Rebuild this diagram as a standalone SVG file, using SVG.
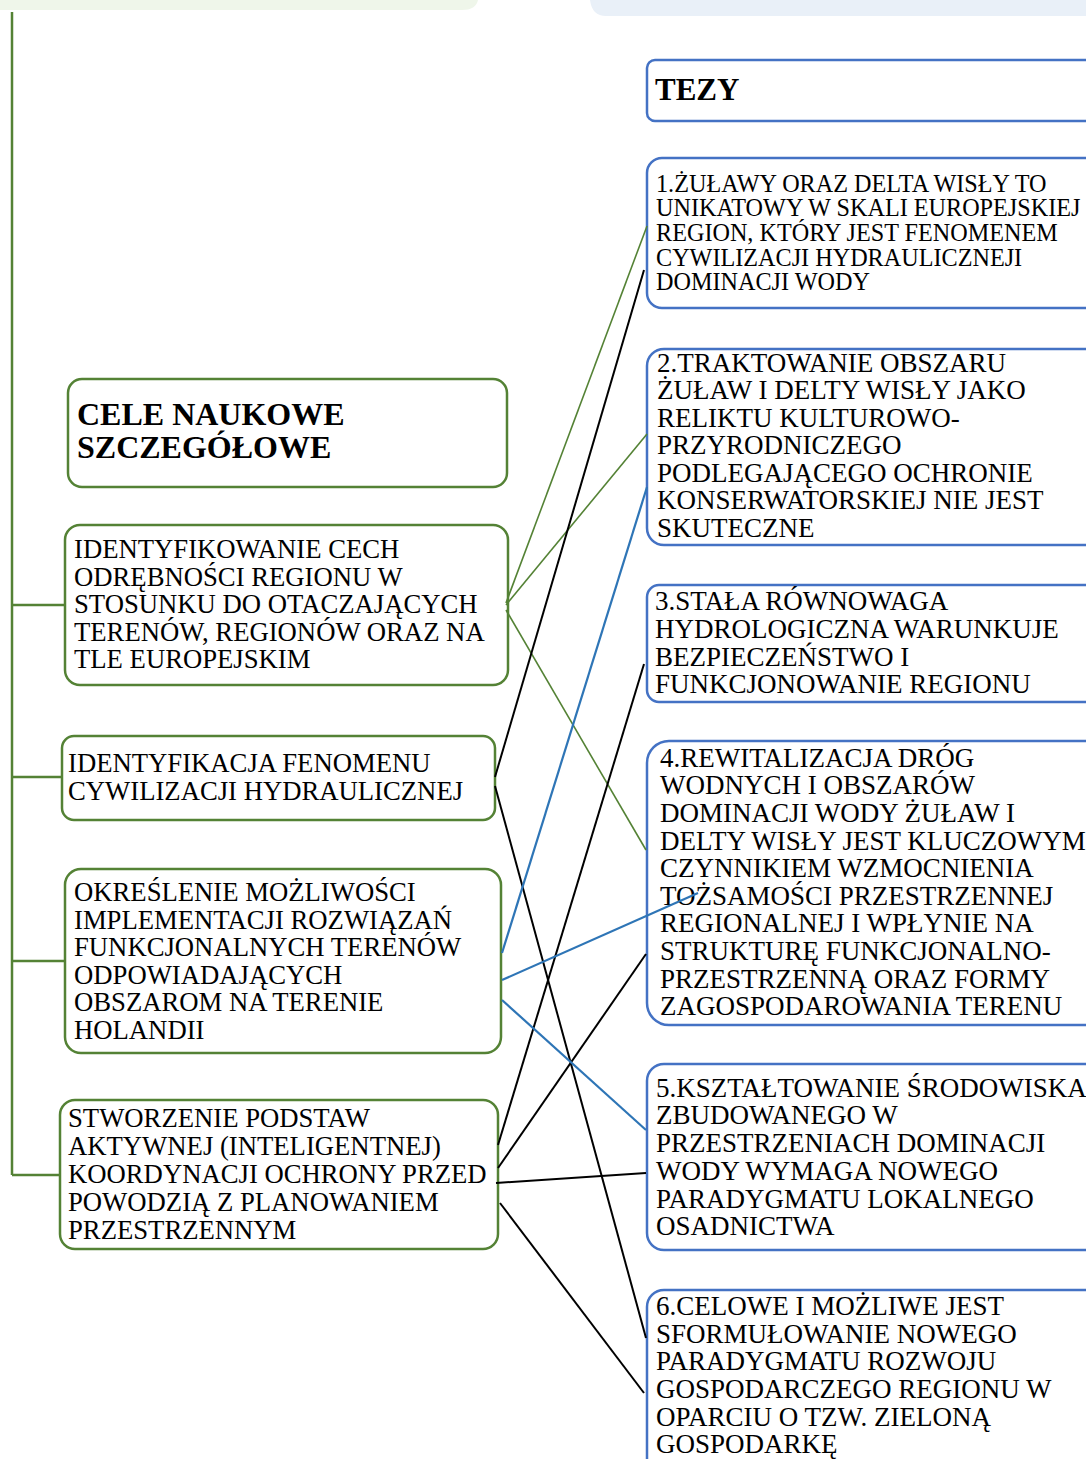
<svg xmlns="http://www.w3.org/2000/svg" width="1086" height="1459" viewBox="0 0 1086 1459">
<style>
.bg{fill:#ffffff}
.gbox{fill:#ffffff;stroke:#548235;stroke-width:2.5}
.bbox{fill:#ffffff;stroke:#4472C4;stroke-width:2.5}
.t{font-family:"Liberation Serif","Times New Roman",serif;font-size:26.7px;fill:#000}
.r{font-size:27px}
.t1{font-size:24.2px}
.h{font-family:"Liberation Serif","Times New Roman",serif;font-weight:bold;fill:#000}
.trunk{stroke:#548235;stroke-width:2.5;fill:none}
.cg{stroke:#548235;stroke-width:1.6;fill:none}
.ck{stroke:#000;stroke-width:2;fill:none}
.cb{stroke:#2E75B6;stroke-width:2.2;fill:none}
</style>
<rect class="bg" x="0" y="0" width="1086" height="1459"/>
<g id="top-bands">
<path d="M0 0 H478 Q476 10 462 10 H0 Z" fill="#EFF6EA"/>
<path d="M590 0 H1086 V16 H606 Q592 16 590 0 Z" fill="#E9F0F8"/>
</g>
<g id="trunk">
<path class="trunk" d="M12 12 V1175 M12 605 H65 M12 777 H62 M12 961 H66 M12 1175 H61"/>
</g>
<g id="cele">
<rect class="gbox" x="68" y="379" width="439" height="108" rx="14"/>
<text class="h" font-size="32" x="77" y="425">CELE NAUKOWE</text>
<text class="h" font-size="32" x="77" y="458">SZCZEGÓŁOWE</text>
</g>
<g id="cel1">
<rect class="gbox" x="65" y="525" width="443" height="160" rx="15"/>
<text class="t" x="74" y="558">IDENTYFIKOWANIE CECH</text>
<text class="t" x="74" y="585.5">ODRĘBNOŚCI REGIONU W</text>
<text class="t" x="74" y="613">STOSUNKU DO OTACZAJĄCYCH</text>
<text class="t" x="74" y="640.5">TERENÓW, REGIONÓW ORAZ NA</text>
<text class="t" x="74" y="668">TLE EUROPEJSKIM</text>
</g>
<g id="cel2">
<rect class="gbox" x="62" y="736" width="433" height="84" rx="12"/>
<text class="t" x="68" y="772">IDENTYFIKACJA FENOMENU</text>
<text class="t" x="68" y="800">CYWILIZACJI HYDRAULICZNEJ</text>
</g>
<g id="cel3">
<rect class="gbox" x="65" y="869" width="436" height="184" rx="16"/>
<text class="t" x="74" y="901">OKREŚLENIE MOŻLIWOŚCI</text>
<text class="t" x="74" y="928.5">IMPLEMENTACJI ROZWIĄZAŃ</text>
<text class="t" x="74" y="956">FUNKCJONALNYCH TERENÓW</text>
<text class="t" x="74" y="983.5">ODPOWIADAJĄCYCH</text>
<text class="t" x="74" y="1011">OBSZAROM NA TERENIE</text>
<text class="t" x="74" y="1038.5">HOLANDII</text>
</g>
<g id="cel4">
<rect class="gbox" x="60" y="1100" width="438" height="149" rx="15"/>
<text class="t" x="68" y="1127">STWORZENIE PODSTAW</text>
<text class="t" x="68" y="1155">AKTYWNEJ (INTELIGENTNEJ)</text>
<text class="t" x="68" y="1183">KOORDYNACJI OCHRONY PRZED</text>
<text class="t" x="68" y="1211">POWODZIĄ Z PLANOWANIEM</text>
<text class="t" x="68" y="1239">PRZESTRZENNYM</text>
</g>
<g id="tezy">
<rect class="bbox" x="647" y="60" width="460" height="61" rx="8"/>
<text class="h" font-size="31" x="655" y="100">TEZY</text>
</g>
<g id="teza1">
<rect class="bbox" x="647" y="158" width="460" height="150" rx="15"/>
<text class="t t1" x="656" y="191.5">1.ŻUŁAWY ORAZ DELTA WISŁY TO</text>
<text class="t t1" x="656" y="216.2">UNIKATOWY W SKALI EUROPEJSKIEJ</text>
<text class="t t1" x="656" y="240.9">REGION, KTÓRY JEST FENOMENEM</text>
<text class="t t1" x="656" y="265.6">CYWILIZACJI HYDRAULICZNEJI</text>
<text class="t t1" x="656" y="290.3">DOMINACJI WODY</text>
</g>
<g id="teza2">
<rect class="bbox" x="647" y="349" width="460" height="196" rx="17"/>
<text class="t r" x="657" y="371.7">2.TRAKTOWANIE OBSZARU</text>
<text class="t r" x="657" y="399.2">ŻUŁAW I DELTY WISŁY JAKO</text>
<text class="t r" x="657" y="426.7">RELIKTU KULTUROWO-</text>
<text class="t r" x="657" y="454.2">PRZYRODNICZEGO</text>
<text class="t r" x="657" y="481.7">PODLEGAJĄCEGO OCHRONIE</text>
<text class="t r" x="657" y="509.2">KONSERWATORSKIEJ NIE JEST</text>
<text class="t r" x="657" y="536.7">SKUTECZNE</text>
</g>
<g id="teza3">
<rect class="bbox" x="647" y="585" width="460" height="117" rx="12"/>
<text class="t r" x="655" y="610">3.STAŁA RÓWNOWAGA</text>
<text class="t r" x="655" y="637.8">HYDROLOGICZNA WARUNKUJE</text>
<text class="t r" x="655" y="665.6">BEZPIECZEŃSTWO I</text>
<text class="t r" x="655" y="693.3">FUNKCJONOWANIE REGIONU</text>
</g>
<g id="teza4">
<rect class="bbox" x="647" y="741" width="460" height="284" rx="22"/>
<text class="t r" x="660" y="766.7">4.REWITALIZACJA DRÓG</text>
<text class="t r" x="660" y="794.3">WODNYCH I OBSZARÓW</text>
<text class="t r" x="660" y="821.9">DOMINACJI WODY ŻUŁAW I</text>
<text class="t r" x="660" y="849.5">DELTY WISŁY JEST KLUCZOWYM</text>
<text class="t r" x="660" y="877.1">CZYNNIKIEM WZMOCNIENIA</text>
<text class="t r" x="660" y="904.7">TOŻSAMOŚCI PRZESTRZENNEJ</text>
<text class="t r" x="660" y="932.3">REGIONALNEJ I WPŁYNIE NA</text>
<text class="t r" x="660" y="959.9">STRUKTURĘ FUNKCJONALNO-</text>
<text class="t r" x="660" y="987.5">PRZESTRZENNĄ ORAZ FORMY</text>
<text class="t r" x="660" y="1015">ZAGOSPODAROWANIA TERENU</text>
</g>
<g id="teza5">
<rect class="bbox" x="647" y="1064" width="460" height="186" rx="17"/>
<text class="t r" x="656" y="1096.7">5.KSZTAŁTOWANIE ŚRODOWISKA</text>
<text class="t r" x="656" y="1124.4">ZBUDOWANEGO W</text>
<text class="t r" x="656" y="1152.1">PRZESTRZENIACH DOMINACJI</text>
<text class="t r" x="656" y="1179.8">WODY WYMAGA NOWEGO</text>
<text class="t r" x="656" y="1207.5">PARADYGMATU LOKALNEGO</text>
<text class="t r" x="656" y="1235">OSADNICTWA</text>
</g>
<g id="teza6">
<rect class="bbox" x="647" y="1290" width="460" height="200" rx="17"/>
<text class="t r" x="656" y="1315">6.CELOWE I MOŻLIWE JEST</text>
<text class="t r" x="656" y="1342.7">SFORMUŁOWANIE NOWEGO</text>
<text class="t r" x="656" y="1370.4">PARADYGMATU ROZWOJU</text>
<text class="t r" x="656" y="1398.1">GOSPODARCZEGO REGIONU W</text>
<text class="t r" x="656" y="1425.8">OPARCIU O TZW. ZIELONĄ</text>
<text class="t r" x="656" y="1453.3">GOSPODARKĘ</text>
</g>
<g id="connectors">
<line class="cg" x1="506" y1="603" x2="647" y2="226"/>
<line class="cg" x1="506" y1="605" x2="647" y2="434"/>
<line class="cg" x1="506" y1="610" x2="646" y2="850"/>
<line class="ck" x1="495" y1="777" x2="644" y2="270"/>
<line class="ck" x1="495" y1="786" x2="646" y2="1338"/>
<line class="ck" x1="498" y1="1145" x2="644" y2="664"/>
<line class="ck" x1="498" y1="1168" x2="646" y2="954"/>
<line class="ck" x1="496" y1="1183" x2="646" y2="1173"/>
<line class="ck" x1="500" y1="1203" x2="644" y2="1393"/>
<line class="cb" x1="502" y1="953" x2="647" y2="487"/>
<line class="cb" x1="502" y1="980" x2="698" y2="893"/>
<line class="cb" x1="502" y1="1000" x2="646" y2="1130"/>
</g>
</svg>
